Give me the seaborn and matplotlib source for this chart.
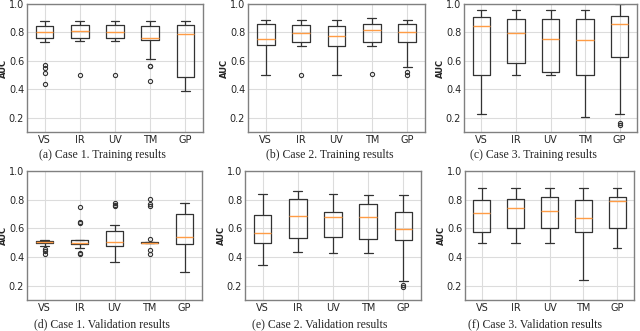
import seaborn as sns
import pandas as pd
import matplotlib.pyplot as plt

models = ["VS", "IR", "UV", "TM", "GP"]

# AUC samples per model (quartiles, whiskers, outliers)
case1_train = {
    "VS": [0.434, 0.516, 0.547, 0.568, 0.73, 0.758, 0.765, 0.775, 0.785, 0.795, 0.803,
           0.81, 0.82, 0.83, 0.84, 0.847, 0.85, 0.86, 0.87, 0.875, 0.883],
    "IR": [0.50, 0.739, 0.758, 0.78, 0.809, 0.83, 0.849, 0.87, 0.882],
    "UV": [0.50, 0.739, 0.758, 0.785, 0.805, 0.83, 0.849, 0.87, 0.882],
    "TM": [0.458, 0.563, 0.567, 0.61, 0.744, 0.748, 0.752, 0.757, 0.762,
           0.78, 0.80, 0.82, 0.842, 0.85, 0.86, 0.87, 0.882],
    "GP": [0.387, 0.45, 0.49, 0.65, 0.786, 0.82, 0.849, 0.87, 0.882],
}
case2_train = {
    "VS": [0.50, 0.62, 0.712, 0.73, 0.753, 0.80, 0.857, 0.87, 0.885],
    "IR": [0.50, 0.707, 0.731, 0.76, 0.795, 0.82, 0.852, 0.87, 0.888],
    "UV": [0.50, 0.62, 0.705, 0.74, 0.772, 0.81, 0.847, 0.87, 0.888],
    "TM": [0.506, 0.705, 0.731, 0.77, 0.819, 0.84, 0.862, 0.88, 0.902],
    "GP": [0.50, 0.52, 0.555, 0.735, 0.76, 0.78, 0.80, 0.82, 0.84, 0.857, 0.87, 0.88, 0.888],
}
case3_train = {
    "VS": [0.23, 0.40, 0.50, 0.70, 0.843, 0.88, 0.909, 0.93, 0.959],
    "IR": [0.50, 0.55, 0.584, 0.70, 0.795, 0.85, 0.893, 0.93, 0.96],
    "UV": [0.50, 0.51, 0.525, 0.65, 0.753, 0.83, 0.893, 0.93, 0.96],
    "TM": [0.205, 0.40, 0.503, 0.65, 0.745, 0.83, 0.893, 0.93, 0.96],
    "GP": [0.15, 0.16, 0.228, 0.624, 0.70, 0.80, 0.859, 0.88, 0.90, 0.916, 0.95, 0.98, 1.0],
}
case1_val = {
    "VS": [0.42, 0.445, 0.455, 0.476, 0.495, 0.498, 0.500, 0.502, 0.504,
           0.506, 0.508, 0.51, 0.513, 0.515, 0.517, 0.52, 0.522],
    "IR": [0.418, 0.43, 0.46, 0.475, 0.488, 0.49, 0.493, 0.495, 0.497,
           0.50, 0.505, 0.51, 0.517, 0.52, 0.635, 0.645, 0.746],
    "UV": [0.366, 0.42, 0.45, 0.47, 0.48, 0.49, 0.50, 0.505, 0.508,
           0.52, 0.54, 0.56, 0.58, 0.623, 0.755, 0.765, 0.775],
    "TM": [0.418, 0.448, 0.495, 0.496, 0.497, 0.497, 0.498, 0.499, 0.50, 0.50, 0.50,
           0.50, 0.501, 0.502, 0.503, 0.503, 0.505, 0.525, 0.758, 0.767, 0.805],
    "GP": [0.296, 0.40, 0.49, 0.51, 0.541, 0.62, 0.698, 0.74, 0.78],
}
case2_val = {
    "VS": [0.345, 0.42, 0.497, 0.53, 0.569, 0.63, 0.693, 0.77, 0.842],
    "IR": [0.436, 0.48, 0.534, 0.61, 0.686, 0.75, 0.807, 0.84, 0.863],
    "UV": [0.429, 0.49, 0.541, 0.62, 0.681, 0.70, 0.714, 0.78, 0.842],
    "TM": [0.429, 0.48, 0.527, 0.61, 0.681, 0.73, 0.767, 0.80, 0.835],
    "GP": [0.19, 0.205, 0.231, 0.516, 0.54, 0.57, 0.597, 0.64, 0.68, 0.716, 0.76, 0.80, 0.835],
}
case3_val = {
    "VS": [0.497, 0.54, 0.573, 0.65, 0.709, 0.76, 0.80, 0.85, 0.884],
    "IR": [0.50, 0.56, 0.605, 0.68, 0.741, 0.78, 0.807, 0.85, 0.884],
    "UV": [0.50, 0.56, 0.605, 0.67, 0.72, 0.78, 0.821, 0.85, 0.88],
    "TM": [0.237, 0.45, 0.573, 0.62, 0.669, 0.74, 0.80, 0.85, 0.884],
    "GP": [0.465, 0.54, 0.605, 0.70, 0.788, 0.81, 0.821, 0.85, 0.884],
}

captions = [
    "(a) Case 1. Training results",
    "(b) Case 2. Training results",
    "(c) Case 3. Training results",
    "(d) Case 1. Validation results",
    "(e) Case 2. Validation results",
    "(f) Case 3. Validation results",
]

panels = [case1_train, case2_train, case3_train, case1_val, case2_val, case3_val]

W, H = 640, 331
# axes boxes in pixels: left, top, right, bottom
boxes_px = [
    (27, 4, 203, 132), (248, 4, 425, 132), (464, 4, 637, 132),
    (27, 171, 202, 300), (245, 171, 421, 300), (465, 171, 634, 300),
]
caption_px = [(102, 155), (330, 155), (533, 155), (102, 324), (320, 324), (535, 324)]

sns.set_style("whitegrid")
plt.rcParams["font.family"] = ["DejaVu Sans"]

fig = plt.figure(figsize=(W / 100, H / 100), dpi=100)

for samples, caption, (l, t, r, b), (cx, cy) in zip(panels, captions, boxes_px, caption_px):
    df = pd.DataFrame([(m, v) for m in models for v in samples[m]], columns=["model", "AUC"])
    ax = fig.add_axes([l / W, 1 - b / H, (r - l) / W, (b - t) / H])
    sns.boxplot(data=df, x="model", y="AUC", order=models, ax=ax,
                width=0.5, fill=False, color="#333333", linewidth=0.9, whis=1.5,
                medianprops={"color": "#ff9c45", "linewidth": 1.0},
                flierprops={"marker": "o", "markersize": 3, "markerfacecolor": "none",
                            "markeredgecolor": "#333333", "markeredgewidth": 0.8})
    ax.set_ylim(0.1, 1.0)
    ax.set_yticks([0.2, 0.4, 0.6, 0.8, 1.0])
    ax.set_xlabel("")
    ax.set_ylabel("AUC", fontsize=6, fontweight="bold")
    ax.yaxis.set_label_coords(-19 / (r - l), 0.5)
    ax.tick_params(labelsize=7, length=0, pad=2)
    ax.grid(True, color="#dcdcdc", linewidth=0.8)
    ax.set_axisbelow(True)
    for s in ax.spines.values():
        s.set_color("#808080")
        s.set_linewidth(1.0)
    fig.text(cx / W, 1 - cy / H, caption, ha="center", va="center",
             family="Liberation Serif", fontsize=8.5)

fig.savefig("out.png", dpi=100)
